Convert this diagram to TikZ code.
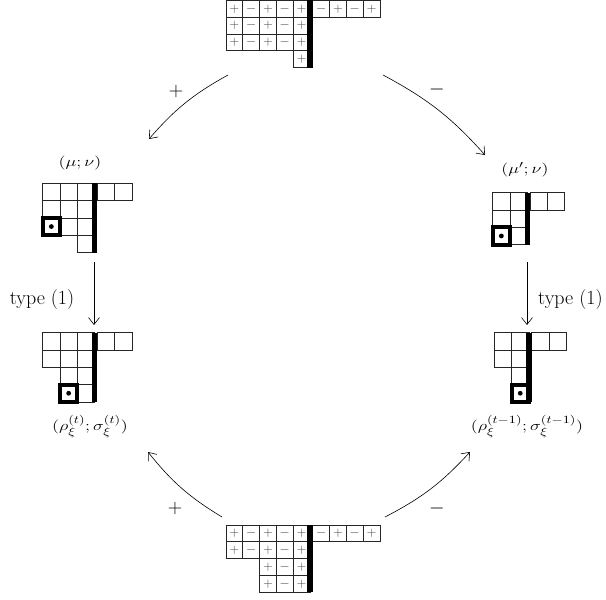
\documentclass[tikz,border=0pt]{standalone}
\usepackage{fix-cm}
\DeclareMathSizes{14}{14}{11}{8}
\usetikzlibrary{arrows.meta}
\begin{document}
\begin{tikzpicture}[x=1pt,y=-1pt,
  cb/.style={draw=black!85, line width=0.7pt, minimum size=16.8pt, inner sep=0pt, outer sep=0pt, anchor=north west, font=\fontsize{13}{13}\selectfont, text=black!75},
  sb/.style={draw=black!85, line width=0.7pt, minimum size=17.3pt, inner sep=0pt, outer sep=0pt, anchor=north west},
  thick box/.style={line width=4pt, draw=black},
  arr/.style={-{Straight Barb[length=7pt,width=11pt]}, line width=0.6pt},
  lab/.style={font=\fontsize{20}{23}\selectfont, inner sep=0pt},
  dlab/.style={font=\fontsize{14}{16}\selectfont, inner sep=0pt, xscale=1.3, transform shape},
]
\useasboundingbox (0,0) rectangle (606,600);
\def\s{16.8}
\def\t{17.3}
% ---------- top diagram ----------
\begin{scope}[shift={(226,0.4)}]
  \foreach \r in {0,1,2}
    \foreach \c/\g in {0/+,1/$-$,2/+,3/$-$,4/+}
      \node[cb] (T\r\c) at (\c*\s,\r*\s) {\g};
  \node[cb] (T34) at (4*\s,3*\s) {+};
  \foreach \c/\g in {0/$-$,1/+,2/$-$,3/+}
    \node[cb] (TR\c) at (5*\s+2.8+\c*\s,0) {\g};
  \fill (5*\s-2.8,0) rectangle (5*\s+2.8,4*\s);
\end{scope}
% ---------- bottom diagram ----------
\begin{scope}[shift={(226,525)}]
  \foreach \r in {0,1}
    \foreach \c/\g in {0/+,1/$-$,2/+,3/$-$,4/+}
      \node[cb] (B\r\c) at (\c*\s,\r*\s) {\g};
  \foreach \r in {2,3}
    \foreach \c/\g in {2/+,3/$-$,4/+}
      \node[cb] (B\r\c) at (\c*\s,\r*\s) {\g};
  \foreach \c/\g in {0/$-$,1/+,2/$-$,3/+}
    \node[cb] (BR\c) at (5*\s+2.8+\c*\s,0) {\g};
  \fill (5*\s-2.8,0) rectangle (5*\s+2.8,4*\s);
\end{scope}
% ---------- (mu;nu) ----------
\begin{scope}[shift={(42.7,183.3)}]
  \foreach \r/\c in {0/0,0/1,0/2,1/0,1/1,1/2,2/1,2/2,3/2}
    \node[sb] (L\r\c) at (\c*\t,\r*\t) {};
  \node[sb,thick box] (L20) at (0,2*\t) {};
  \fill (L20.center) circle (2.4pt);
  \foreach \c in {0,1}
    \node[sb] (LR\c) at (3*\t+2.8+\c*\t,0) {};
  \fill (3*\t-2.8,0) rectangle (3*\t+2.8,4*\t);
\end{scope}
\begin{scope}[shift={(80,163)}]
  \node[dlab] (labL) at (0,0) {$(\mu;\nu)$};
\end{scope}
% ---------- (mu';nu) ----------
\begin{scope}[shift={(492.7,192.7)}]
  \foreach \r/\c in {0/0,0/1,1/0,1/1,2/1}
    \node[sb] (R\r\c) at (\c*\t,\r*\t) {};
  \node[sb,thick box] (R20) at (0,2*\t) {};
  \fill (R20.center) circle (2.4pt);
  \foreach \c in {0,1}
    \node[sb] (RR\c) at (2*\t+2.8+\c*\t,0) {};
  \fill (2*\t-2.8,0) rectangle (2*\t+2.8,3*\t);
\end{scope}
\begin{scope}[shift={(525,170)}]
  \node[dlab] (labR) at (0,0) {$(\mu';\nu)$};
\end{scope}
% ---------- rho^(t) ----------
\begin{scope}[shift={(42.7,332.7)}]
  \foreach \r/\c in {0/0,0/1,0/2,1/0,1/1,1/2,2/1,2/2,3/2}
    \node[sb] (P\r\c) at (\c*\t,\r*\t) {};
  \node[sb,thick box] (P31) at (\t,3*\t) {};
  \fill (P31.center) circle (2.4pt);
  \foreach \c in {0,1}
    \node[sb] (PR\c) at (3*\t+2.8+\c*\t,0) {};
  \fill (3*\t-2.8,0) rectangle (3*\t+2.8,4*\t);
\end{scope}
\begin{scope}[shift={(90,426)}]
  \node[dlab] (labP) at (0,0) {$(\rho_\xi^{(t)};\sigma_\xi^{(t)})$};
\end{scope}
% ---------- rho^(t-1) ----------
\begin{scope}[shift={(494.3,332.7)}]
  \foreach \r/\c in {0/0,0/1,1/0,1/1,2/1}
    \node[sb] (Q\r\c) at (\c*\t,\r*\t) {};
  \node[sb,thick box] (Q31) at (\t,3*\t) {};
  \fill (Q31.center) circle (2.4pt);
  \foreach \c in {0,1}
    \node[sb] (QR\c) at (2*\t+2.8+\c*\t,0) {};
  \fill (2*\t-2.8,0) rectangle (2*\t+2.8,4*\t);
\end{scope}
\begin{scope}[shift={(527,426)}]
  \node[dlab] (labQ) at (0,0) {$(\rho_\xi^{(t-1)};\sigma_\xi^{(t-1)})$};
\end{scope}
% ---------- connectors ----------
\coordinate (a1s) at (228,75);  \coordinate (a1e) at (149,139);
\coordinate (a2s) at (383,75);  \coordinate (a2e) at (485,155);
\coordinate (a3s) at (94,262);  \coordinate (a3e) at (94,325);
\coordinate (a4s) at (527,262); \coordinate (a4e) at (527,325);
\coordinate (a5s) at (222,517); \coordinate (a5e) at (148,452);
\coordinate (a6s) at (385,517); \coordinate (a6e) at (470,452);
\draw[arr] (a1s) to[bend right=10] (a1e);
\draw[arr] (a2s) to[bend left=10] (a2e);
\draw[arr] (a3s) -- (a3e);
\draw[arr] (a4s) -- (a4e);
\draw[arr] (a5s) to[bend left=10] (a5e);
\draw[arr] (a6s) to[bend right=10] (a6e);
\node[lab] (l1) at (176,91) {$+$};
\node[lab] (l2) at (437,89) {$-$};
\node[lab] (l3) at (42,300) {type (1)};
\node[lab,anchor=west] (l4) at (538,300) {type (1)};
\node[lab] (l5) at (175,508) {$+$};
\node[lab] (l6) at (437,508) {$-$};
\end{tikzpicture}
\end{document}
